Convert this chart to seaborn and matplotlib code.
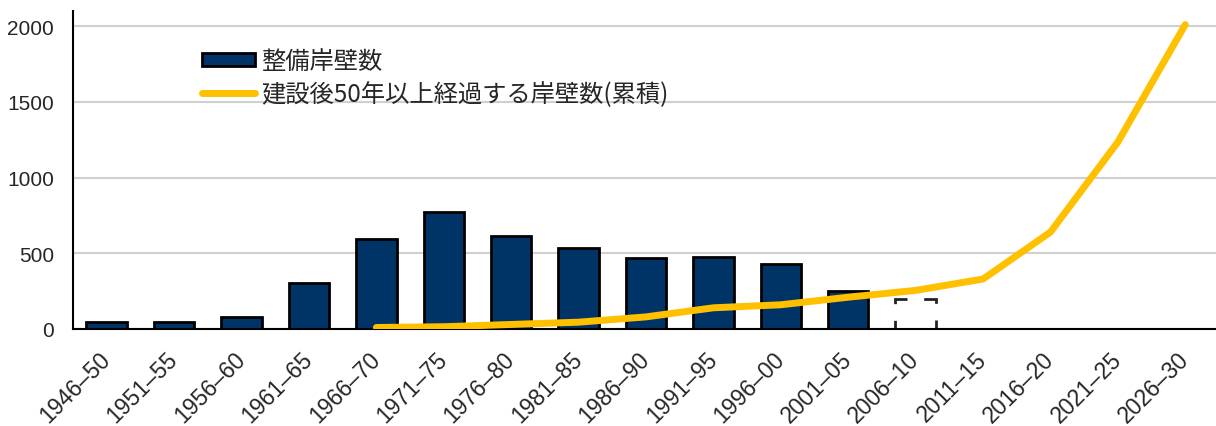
import numpy as np
import pandas as pd
import matplotlib
matplotlib.use("Agg")
import matplotlib.pyplot as plt
import seaborn as sns
from matplotlib.patches import Patch
from matplotlib.lines import Line2D

categories = ["1946–50", "1951–55", "1956–60", "1961–65", "1966–70", "1971–75",
              "1976–80", "1981–85", "1986–90", "1991–95", "1996–00", "2001–05",
              "2006–10", "2011–15", "2016–20", "2021–25", "2026–30"]
built = [47, 48, 80, 305, 595, 775, 615, 537, 470, 475, 430, 250,
         np.nan, np.nan, np.nan, np.nan, np.nan]
built_planned = [np.nan] * 12 + [195] + [np.nan] * 4
over50 = [np.nan, np.nan, np.nan, np.nan, 10, 15, 30, 45, 80, 140, 160, 210,
          255, 330, 640, 1235, 2010]

bar_label = "整備岸壁数"
line_label = "建設後50年以上経過する岸壁数(累積)"

navy = "#003366"
gold = "#FFC000"

sns.set_theme(style="white")
plt.rcParams["font.family"] = ["Noto Sans CJK JP", "DejaVu Sans"]

fig = plt.figure(figsize=(12.16, 4.27), dpi=100)
ax = fig.add_axes([73 / 1216, 1 - 330 / 427, 1146 / 1216, 318 / 427])

pos = np.arange(len(categories))
df = pd.DataFrame({"pos": pos, "cat": categories, "built": built,
                   "planned": built_planned, "over50": over50})

sns.barplot(data=df, x="cat", y="built", order=categories, color=navy,
            saturation=1, width=0.6, edgecolor="black", linewidth=2, ax=ax, zorder=2)
sns.barplot(data=df, x="cat", y="planned", order=categories, color="white",
            saturation=1, width=0.6, edgecolor="#222222", linewidth=2,
            linestyle=(0, (6, 6)), ax=ax, zorder=2)
dl = df.dropna(subset=["over50"])
sns.lineplot(data=dl, x="pos", y="over50", color=gold, linewidth=5,
             ax=ax, zorder=3, solid_capstyle="round")

tick_font = "Liberation Sans"
ax.set_xlim(-0.5, len(categories) - 0.5)
ax.set_ylim(0, 2100)
ax.set_yticks([0, 500, 1000, 1500, 2000])
ax.set_yticklabels(["0", "500", "1000", "1500", "2000"], family=tick_font, fontsize=15)
ax.set_xticks(pos)
ax.set_xticks(np.arange(-0.5, len(categories), 1), minor=True)
ax.tick_params(axis="x", which="major", length=0, pad=19)
ax.tick_params(axis="x", which="minor", length=5, direction="in",
               color="#999999", width=1)
ax.tick_params(axis="y", which="major", length=5, direction="in",
               color="#888888", pad=13.5)
ax.set_xticklabels(categories, rotation=45, ha="right", va="center",
                   rotation_mode="anchor", fontsize=16.5, family=tick_font)
ax.set_xlabel("")
ax.set_ylabel("")
ax.yaxis.grid(True, color="#d0d0d0", linewidth=1.5)
ax.set_axisbelow(True)
for s in ["top", "right"]:
    ax.spines[s].set_visible(False)
for s in ["left", "bottom"]:
    ax.spines[s].set_color("black")
    ax.spines[s].set_linewidth(1.5)

handles = [Patch(facecolor=navy, edgecolor="black", linewidth=2),
           Line2D([0], [0], color=gold, linewidth=5)]
ax.legend(handles, [bar_label, line_label], loc="upper left",
          bbox_to_anchor=(119 / 1146, 1 - 27 / 318), frameon=False, fontsize=17.5,
          handlelength=2.2, handleheight=0.45, handletextpad=0.25,
          labelspacing=0.3, borderaxespad=0)

fig.savefig("out.png", dpi=100)
